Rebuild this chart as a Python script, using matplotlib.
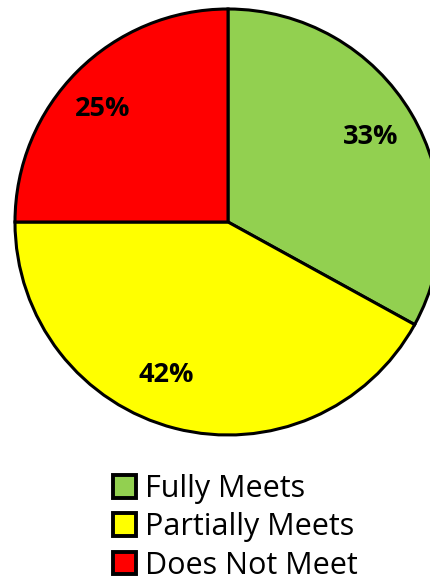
import matplotlib.pyplot as plt

# data
categories = ['Fully Meets', 'Partially Meets', 'Does Not Meet']
shares = [33, 42, 25]
colors = ['#92D050', '#FFFF00', '#FF0000']

W, H = 430, 582
cx, cy, R = 228, 222, 213  # pie centre / radius in pixels

fig = plt.figure(figsize=(W / 100, H / 100), dpi=100)
ax = fig.add_axes([0, 0, 1, 1])

wedges, texts, autotexts = ax.pie(
    shares, colors=colors, startangle=90, counterclock=False, radius=1,
    autopct='%d%%', pctdistance=0.78,
    wedgeprops=dict(edgecolor='black', linewidth=2.2),
    textprops=dict(fontsize=19.5, fontweight='bold', family='Open Sans'))

# nudge labels a bit like the original
autotexts[1].set_position((-0.29, -0.72))
autotexts[2].set_position((-0.59, 0.53))

ax.set_xlim(-cx / R, (W - cx) / R)
ax.set_ylim(-(H - cy) / R, cy / R)
ax.set_aspect('auto')
ax.axis('off')

leg = ax.legend(wedges, categories, loc='upper left',
                bbox_to_anchor=(113 / W, 1 - 474 / H), bbox_transform=fig.transFigure,
                frameon=False, prop=dict(family='Open Sans', size=22),
                handlelength=0.75, handleheight=0.75, handletextpad=0.3,
                labelspacing=0.27, borderpad=0, borderaxespad=0)
for h in leg.legend_handles:
    h.set_linewidth(2.8)
    h.set_edgecolor('black')

fig.savefig('out.png', dpi=100)
